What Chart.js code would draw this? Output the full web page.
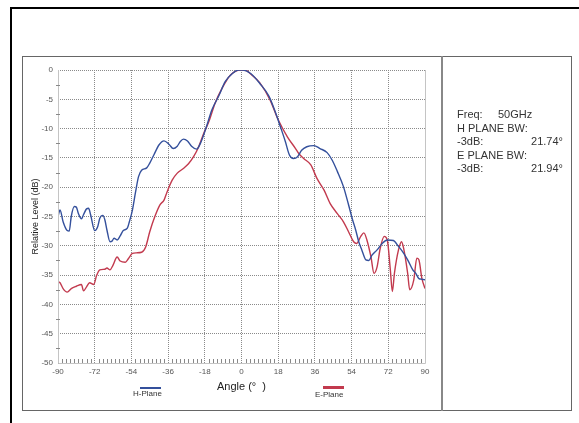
<!DOCTYPE html>
<html>
<head>
<meta charset="utf-8">
<script src="https://cdn.jsdelivr.net/npm/chart.js@4"></script>
<style>
  body { margin: 0; width: 579px; height: 423px; overflow: hidden; background: #fff;
         font-family: "Liberation Sans", Arial, sans-serif; }
  .frame { position: absolute; left: 10px; top: 7px; width: 700px; height: 500px;
           border-top: 2px solid #000; border-left: 2px solid #000; }
  .box { position: absolute; left: 22px; top: 56px; width: 550px; height: 355px;
         box-sizing: border-box; border: 1px solid #666; }
  .divider { position: absolute; left: 441px; top: 56px; width: 2px; height: 355px; background: #888; }
  #chart { position: absolute; left: 0; top: 0; }
  .legend { position: absolute; font-size: 8px; color: #333; }
  .legend span { position: absolute; left: 50%; height: 0; }
  .info { position: absolute; left: 457px; top: 108px; width: 106px; font-size: 11px;
          line-height: 13.6px; color: #333; }
  .info .row { display: flex; justify-content: space-between; }
</style>
</head>
<body>
<div class="frame"></div>
<div class="box"></div>
<div class="divider"></div>
<canvas id="chart" width="579" height="423"></canvas>

<div class="legend" style="left:133px; top:389px;">H-Plane<span style="left:7px; top:-2px; width:21px; border-top:2px solid #34509c;"></span></div>
<div class="legend" style="left:315px; top:390px;">E-Plane<span style="left:8px; top:-4px; width:21px; border-top:3px solid #c23a4e;"></span></div>

<div class="info">
  <div class="row"><span>Freq:&nbsp;&nbsp;&nbsp;&nbsp;&nbsp;50GHz</span></div>
  <div class="row"><span>H PLANE BW:</span></div>
  <div class="row"><span>-3dB:</span><span>21.74°</span></div>
  <div class="row"><span>E PLANE BW:</span></div>
  <div class="row"><span>-3dB:</span><span>21.94°</span></div>
</div>

<script>
// H-plane cut, angle (deg) / relative level (dB)
const hAngles = [-90, -89, -87.5, -85.5, -84.5, -83.5, -82, -81, -80, -78.5, -77.5, -76, -75, -74,
  -72, -70.5, -69.5, -68, -67, -66, -64.5, -63.5, -62.5, -61, -59.5, -58, -56, -55, -53.5, -52,
  -50.5, -49, -46.5, -45, -43, -40.5, -38, -35.5, -33.5, -31.5, -30, -28.5, -26.5, -24.5, -22,
  -20, -17.5, -14.5, -11, -8, -4.5, -1.5, 0.5, 4.5, 9, 13.5, 16.5, 19, 21.5, 23.5, 25.5, 27.5,
  29.5, 32, 35.5, 38.5, 42, 44.5, 47, 50, 52.5, 54.5, 56, 57.5, 59, 61, 62.5, 64, 66.5, 69, 71.5,
  74.5, 77, 79, 81.5, 84, 85.5, 87, 88.5, 90]
const hLevel = [-25.0, -23.9, -25.9, -27.4, -27.5, -25.0, -23.3, -23.4, -24.5, -25.4, -24.7, -23.7,
  -23.6, -24.7, -27.4, -26.7, -25.3, -24.8, -25.6, -27.3, -29.3, -29.2, -28.7, -29.0, -28.3, -27.4,
  -27.0, -25.9, -23.9, -20.9, -18.2, -17.1, -16.7, -15.9, -14.5, -12.8, -12.1, -12.7, -13.4, -13.0,
  -12.2, -11.8, -12.1, -13.0, -13.5, -12.4, -10.0, -6.8, -4.3, -2.0, -0.6, 0, 0, -0.6, -2.3, -4.5,
  -7.1, -9.6, -12.2, -14.5, -15.1, -14.8, -13.7, -13.1, -12.9, -13.4, -14.1, -15.4, -17.3, -19.9,
  -23.0, -25.6, -27.3, -29.3, -30.7, -32.4, -32.5, -31.6, -30.7, -29.6, -29.0, -29.1, -30.1, -31.0,
  -32.4, -34.1, -34.7, -35.6, -35.7, -35.8]

// E-plane cut
const eAngles = [-90, -89, -87.5, -85.5, -83.5, -81, -78.5, -77.5, -76, -74.5, -72.5, -71, -69.5,
  -67, -66, -64.5, -63, -61, -59.5, -57, -55.5, -53.5, -51.5, -49, -47, -45, -42.5, -40, -38, -36.5,
  -34, -31.5, -28.5, -26, -23.5, -21, -18.5, -16, -13, -9.5, -5.5, -0.5, 2.5, 4.5, 9, 14, 18, 22.5,
  26.5, 28, 30.5, 34, 37, 40.5, 43.5, 47, 50, 52.5, 55, 56.5, 58.5, 60, 61.5, 63.5, 65, 66.5, 68,
  70, 71.5, 73, 74, 75, 77, 78.5, 79.5, 81.5, 82.5, 84.5, 86, 87, 88.5, 90]
const eLevel = [-36.1, -36.3, -37.3, -37.9, -37.3, -36.9, -36.6, -37.7, -37.0, -36.3, -36.6, -35.0,
  -34.1, -34.0, -33.8, -34.1, -33.3, -31.9, -32.6, -32.8, -32.2, -31.3, -31.2, -31.1, -30.2, -27.6,
  -25.0, -23.0, -22.2, -20.8, -18.8, -17.6, -16.8, -16.0, -14.8, -13.1, -10.8, -8.8, -5.7, -3.1,
  -0.9, 0, -0.1, -0.7, -2.2, -5.1, -8.5, -11.4, -13.4, -14.2, -15.1, -16.2, -18.5, -20.5, -22.8,
  -24.5, -25.9, -27.6, -29.3, -29.6, -28.4, -27.8, -29.0, -31.9, -34.7, -33.6, -30.5, -28.4, -29.0,
  -34.1, -37.8, -34.7, -30.7, -29.3, -30.4, -34.7, -37.5, -35.8, -32.1, -32.4, -35.6, -37.3]

const xTicks = [-90, -72, -54, -36, -18, 0, 18, 36, 54, 72, 90]
const yTicks = [0, -5, -10, -15, -20, -25, -30, -35, -40, -45, -50]

const toPoints = (xs, ys) => xs.map((x, i) => ({ x, y: ys[i] }))

// plot frame and the small minor ticks along the left and bottom edges
const minorTicks = {
  id: 'minorTicks',
  afterDraw(chart) {
    const { ctx, chartArea: a, scales: { x, y } } = chart
    ctx.save()
    ctx.strokeStyle = '#c4c4c4'
    ctx.lineWidth = 1
    ctx.beginPath()
    ctx.moveTo(a.left + 0.5, a.top)
    ctx.lineTo(a.left + 0.5, a.bottom + 0.5)
    ctx.lineTo(a.right + 0.5, a.bottom + 0.5)
    ctx.lineTo(a.right + 0.5, a.top)
    ctx.stroke()

    ctx.strokeStyle = '#888'
    ctx.beginPath()
    for (let v = -88; v < 90; v += 2) {
      if (v % 18 === 0) continue
      const px = Math.round(x.getPixelForValue(v)) + 0.5
      ctx.moveTo(px, a.bottom)
      ctx.lineTo(px, a.bottom - 4)
    }
    for (let v = -2.5; v > -50; v -= 5) {
      const py = Math.round(y.getPixelForValue(v)) + 0.5
      ctx.moveTo(a.left - 2, py)
      ctx.lineTo(a.left + 2, py)
    }
    ctx.stroke()
    ctx.restore()
  }
}

const tickFont = { family: '"Liberation Sans", Arial, sans-serif', size: 8 }

new Chart(document.getElementById('chart'), {
  type: 'line',
  data: {
    datasets: [{
      label: 'H-Plane',
      data: toPoints(hAngles, hLevel),
      borderColor: '#34509c',
      borderWidth: 1.4,
      pointRadius: 0,
      cubicInterpolationMode: 'monotone'
    }, {
      label: 'E-Plane',
      data: toPoints(eAngles, eLevel),
      borderColor: '#c23a4e',
      borderWidth: 1.4,
      pointRadius: 0,
      cubicInterpolationMode: 'monotone'
    }]
  },
  options: {
    responsive: false,
    animation: false,
    layout: { padding: { left: 22, top: 70, right: 154, bottom: 28 } },
    plugins: { legend: { display: false }, tooltip: { enabled: false } },
    scales: {
      x: {
        type: 'linear',
        min: -90,
        max: 90,
        afterBuildTicks: s => { s.ticks = xTicks.map(value => ({ value })) },
        afterFit: s => { s.height = 32 },
        ticks: { font: tickFont, color: '#555', padding: 4, maxRotation: 0 },
        grid: { color: '#8a8a8a', drawTicks: false },
        border: { display: false, dash: [1, 1] },
        title: {
          display: true, text: 'Angle (°  )', color: '#222',
          font: { family: '"Liberation Sans", Arial, sans-serif', size: 11 },
          padding: { top: 0, bottom: 1 }
        }
      },
      y: {
        min: -50,
        max: 0,
        afterBuildTicks: s => { s.ticks = yTicks.map(value => ({ value })) },
        afterFit: s => { s.width = 36 },
        ticks: { font: tickFont, color: '#555', padding: 5 },
        grid: { color: '#8a8a8a', drawTicks: false },
        border: { display: false, dash: [1, 1] },
        title: {
          display: true, text: 'Relative Level (dB)', color: '#222',
          font: { family: '"Liberation Sans", Arial, sans-serif', size: 9 },
          padding: { top: 8.6, bottom: 0 }
        }
      }
    }
  },
  plugins: [minorTicks]
})
</script>
</body>
</html>
